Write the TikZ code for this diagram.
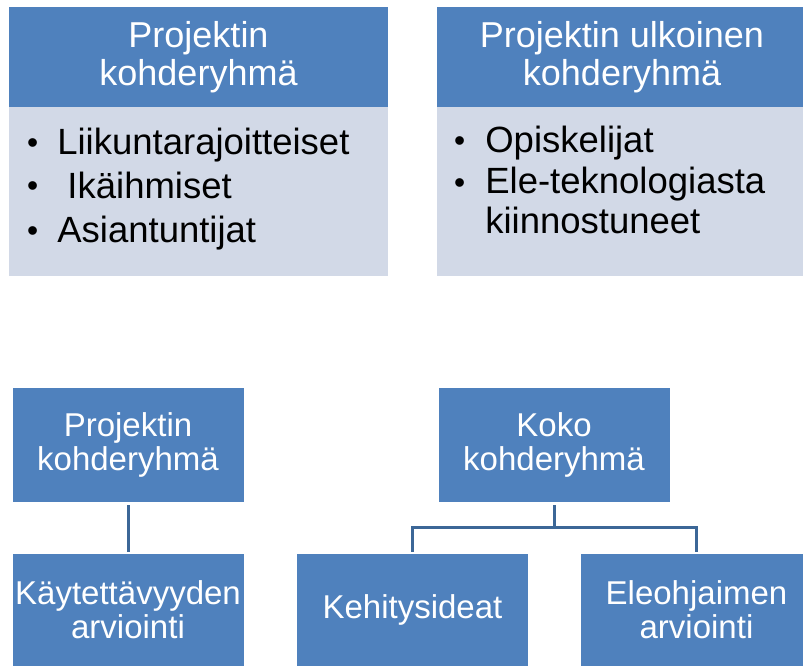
\documentclass[tikz,border=0pt]{standalone}
\usepackage{fontspec}
\setmainfont{Liberation Sans}
\usetikzlibrary{positioning}

\definecolor{headblue}{HTML}{4F81BD}
\definecolor{listblue}{HTML}{D2D9E7}
\definecolor{linkblue}{HTML}{3C6797}

\newcommand{\itemdot}{\raisebox{1pt}{\scalebox{0.87}{\textbullet}}}

\begin{document}
\begin{tikzpicture}[x=1pt, y=-1pt,
    head/.style={fill=headblue, text=white, align=center, inner sep=0pt,
      font=\fontsize{36}{38}\selectfont},
    listbox/.style={fill=listblue, inner sep=0pt},
    items/.style={anchor=base west, inner sep=0pt, text=black},
    unit/.style={fill=headblue, text=white, align=center, inner sep=0pt,
      minimum width=231pt, font=\fontsize{33}{34}\selectfont},
    link/.style={draw=linkblue, line width=3pt, shorten <=3pt, shorten >=2pt}]
  \useasboundingbox (0,0) rectangle (803,666);

  % upper boxes
  \node [head, minimum width=379pt, minimum height=100pt] (lhead) at (198.5,57) {Projektin\\kohderyhmä};
  \node [listbox, minimum width=379pt, minimum height=169pt, below=0pt of lhead] (lbody) {};
  \node [items] (llist) at (27,154) {\fontsize{36.5}{44}\selectfont
    \begin{tabular}[t]{@{}l@{\hspace{19pt}}l@{}}
      \itemdot & Liikuntarajoitteiset\\
      \itemdot & \ Ikäihmiset\\
      \itemdot & Asiantuntijat
    \end{tabular}};

  \node [head, minimum width=370pt, minimum height=100pt] (rhead) at (622,57) {Projektin ulkoinen\\kohderyhmä};
  \node [listbox, minimum width=370pt, minimum height=169pt, below=0pt of rhead] (rbody) {};
  \node [items] (rlist) at (454,153) {\fontsize{36.5}{40}\selectfont
    \begin{tabular}[t]{@{}l@{\hspace{20pt}}l@{}}
      \itemdot & Opiskelijat\\[1pt]
      \itemdot & Ele-teknologiasta\\
               & kiinnostuneet
    \end{tabular}};

  % lower chart
  \node [unit, minimum height=114pt] (proj) at (128,445) {Projektin\\kohderyhmä};
  \node [unit, minimum height=112pt] (kayt) at (128,610) {Käytettävyyden\\arviointi};
  \node [unit, minimum height=114pt] (koko) at (554,445) {Koko\\kohderyhmä};
  \node [unit, minimum height=112pt] (kehi) at (412.5,610) {Kehitysideat};
  \node [unit, minimum height=112pt] (eleo) at (696.5,610) {Eleohjaimen\\arviointi};

  \draw [link] (proj) -- (kayt);
  \draw [link] (koko.south) -- ++(0,25) -| (kehi.north);
  \draw [link] (koko.south) -- ++(0,25) -| (eleo.north);
\end{tikzpicture}
\end{document}
